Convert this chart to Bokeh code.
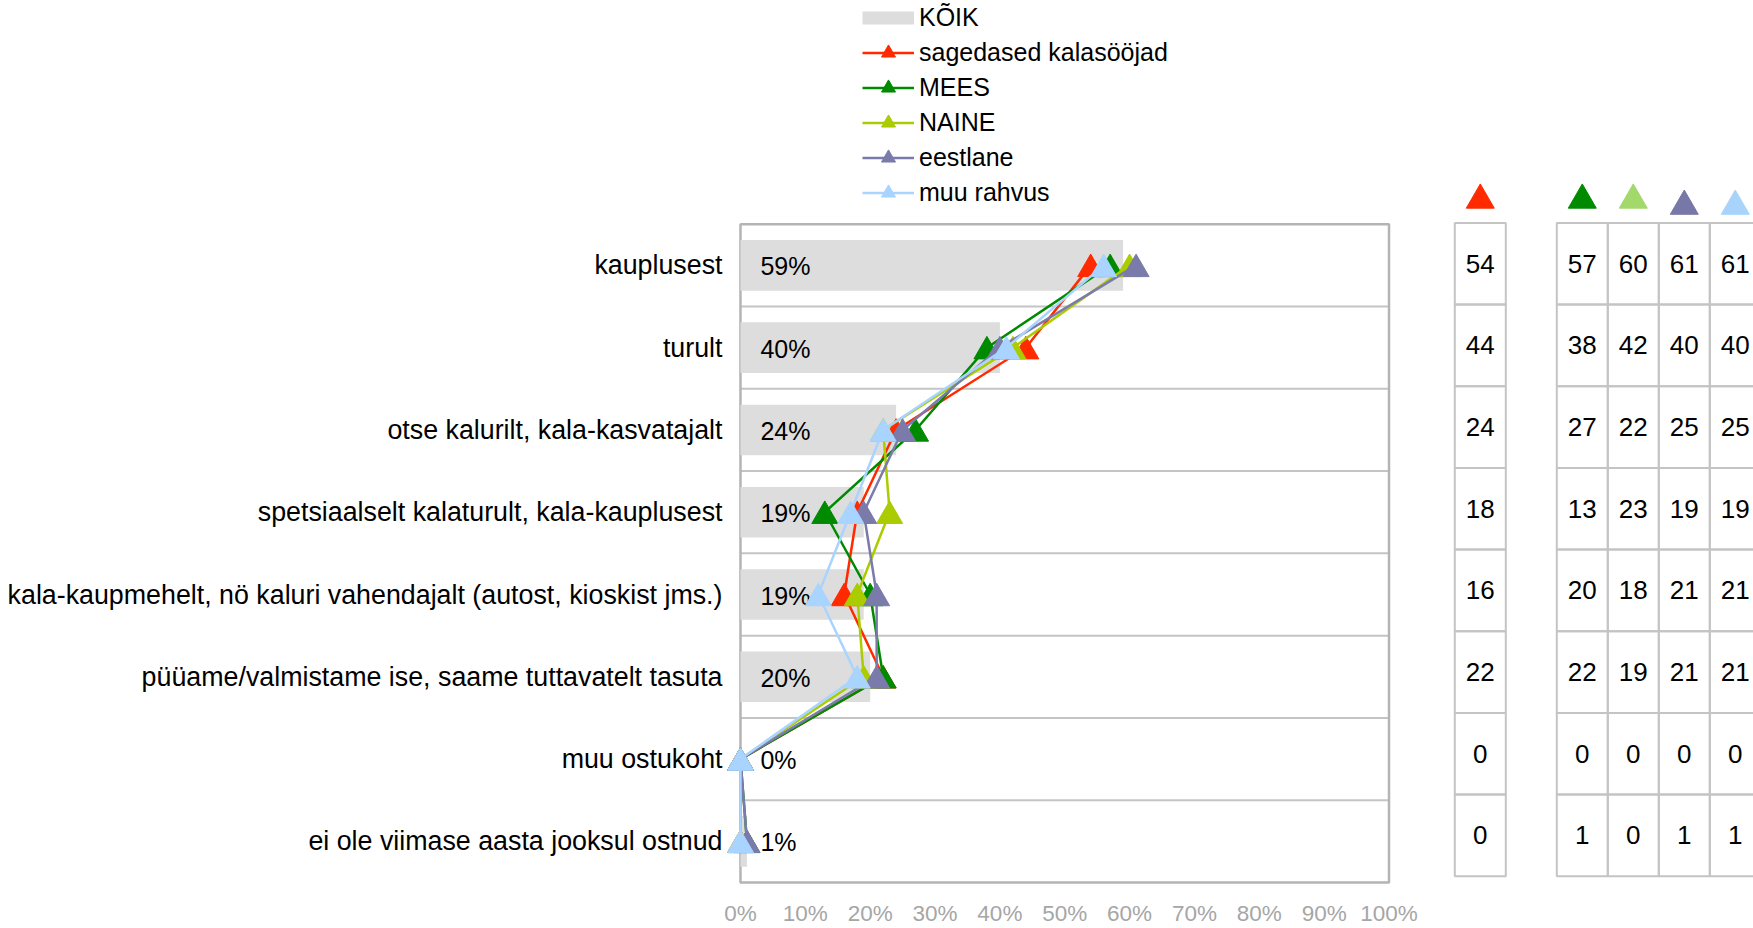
from bokeh.plotting import figure
from bokeh.models import Range1d, FixedTicker, PrintfTickFormatter, Legend, LegendItem
from bokeh.layouts import row
from bokeh.embed import file_html
from bokeh.resources import INLINE
from bokeh.core.properties import value

# ---------------- data ----------------
categories = [
    "kauplusest",
    "turult",
    "otse kalurilt, kala-kasvatajalt",
    "spetsiaalselt kalaturult, kala-kauplusest",
    "kala-kaupmehelt, nö kaluri vahendajalt (autost, kioskist jms.)",
    "püüame/valmistame ise, saame tuttavatelt tasuta",
    "muu ostukoht",
    "ei ole viimase aasta jooksul ostnud",
]
koik = [59, 40, 24, 19, 19, 20, 0, 1]
sagedased = [54, 44, 24, 18, 16, 22, 0, 0]
mees = [57, 38, 27, 13, 20, 22, 0, 1]
naine = [60, 42, 22, 23, 18, 19, 0, 0]
eestlane = [61, 40, 25, 19, 21, 21, 0, 1]
muu_rahvus = [56, 41, 22, 17, 12, 18, 0, 0]
# values printed in the last (cut-off) table column
muu_rahvus_table = [61, 40, 25, 19, 21, 21, 0, 1]

series_names = ["sagedased kalasööjad", "MEES", "NAINE", "eestlane", "muu rahvus"]
series_values = [sagedased, mees, naine, eestlane, muu_rahvus]
series_colors = ["#ff2a00", "#008a00", "#aacc00", "#7b7bab", "#a8d4ff"]
header_colors = ["#ff2a00", "#008a00", "#a3d86b", "#7878a8", "#a8d4fb"]
x_ticks = [0, 10, 20, 30, 40, 50, 60, 70, 80, 90, 100]

FONT = "Liberation Sans"
n = len(categories)
ycent = [i + 0.5 for i in range(n)]
# a triangle marker is centred on its centroid; nudge so its box is centred on the row
MARKER_NUDGE = 0.045
ymark = [y + MARKER_NUDGE for y in ycent]
NAN = float("nan")

# ---------------- main chart ----------------
p = figure(width=1420, height=928,
           x_range=Range1d(-2, 101), y_range=Range1d(8.0243, -2.7193),
           output_backend="svg", toolbar_location=None,
           min_border=0, min_border_left=727, min_border_right=25,
           min_border_bottom=43,
           outline_line_color=None, background_fill_color="white",
           border_fill_color="white")
p.xgrid.visible = False
p.ygrid.visible = False

# axes
p.xaxis.ticker = FixedTicker(ticks=x_ticks)
p.xaxis.formatter = PrintfTickFormatter(format="%d%%")
p.xaxis.axis_line_color = None
p.xaxis.major_tick_line_color = None
p.xaxis.minor_tick_line_color = None
p.xaxis.major_tick_out = 0
p.xaxis.major_label_text_font = FONT
p.xaxis.major_label_text_font_size = "22.5px"
p.xaxis.major_label_text_color = "#a6a6a6"
p.xaxis.major_label_standoff = 16

p.yaxis.ticker = FixedTicker(ticks=ycent)
p.yaxis.major_label_overrides = {y: c for y, c in zip(ycent, categories)}
p.yaxis.axis_line_color = None
p.yaxis.major_tick_line_color = None
p.yaxis.minor_tick_line_color = None
p.yaxis.major_tick_out = 0
p.yaxis.major_label_standoff = 5
p.yaxis.major_label_text_font = FONT
p.yaxis.major_label_text_font_size = "26.8px"
p.yaxis.major_label_text_color = "#000000"

# plot box and row separators
p.segment(x0=[0] * (n - 1), x1=[100] * (n - 1), y0=list(range(1, n)), y1=list(range(1, n)),
          line_color="#c4c4c4", line_width=2)
p.quad(left=[0], right=[100], top=[0], bottom=[n], fill_color=None,
       line_color="#b4b4b4", line_width=2.5)

# KÕIK bars and labels
p.hbar(y=ycent, left=0, right=koik, height=0.615, fill_color="#dddddd", line_color=None)
p.text(x=[0] * n, y=ycent, text=[f"{v}%" for v in koik], x_offset=20, y_offset=1,
       text_align="left", text_baseline="middle", text_font=value(FONT),
       text_font_size="25px", text_color="#000000")

items = []
koik_key = p.line(x=[NAN], y=[NAN], line_color="#dddddd", line_width=13)
items.append(LegendItem(label="KÕIK", renderers=[koik_key]))
for name, vals, col in zip(series_names, series_values, series_colors):
    rl = p.line(x=vals, y=ycent, line_color=col, line_width=2.5)
    rs = p.scatter(x=vals, y=ymark, marker="triangle", size=26,
                   fill_color=col, line_color=col, line_width=1)
    items.append(LegendItem(label=name, renderers=[rl, rs]))

legend = Legend(items=items, location=(135, 674), glyph_width=52, glyph_height=35,
                label_height=35, spacing=0, padding=0, margin=0, label_standoff=5,
                label_text_font=FONT, label_text_font_size="25px",
                label_text_color="#000000",
                border_line_color=None, background_fill_alpha=0)
p.add_layout(legend)

# ---------------- side tables ----------------
t = figure(width=333, height=928,
           x_range=Range1d(-0.6725, 5.857), y_range=Range1d(8.1015, -2.7242),
           x_axis_location=None, y_axis_location=None,
           output_backend="svg", toolbar_location=None,
           min_border=0, min_border_bottom=43, outline_line_color=None)
t.xgrid.visible = False
t.ygrid.visible = False

table_x = [0.5, 2.5, 3.5, 4.5, 5.5]
table_cols = [sagedased, mees, naine, eestlane, muu_rahvus_table]
cx, cy, ct = [], [], []
for x, vals in zip(table_x, table_cols):
    for y, v in zip(ycent, vals):
        cx.append(x)
        cy.append(y)
        ct.append(str(v))
t.rect(x=cx, y=cy, width=1, height=1, fill_color=None, line_color="#c4c4c4", line_width=2)
t.text(x=cx, y=cy, text=ct, text_align="center", text_baseline="middle",
       text_font=value(FONT), text_font_size="26px", text_color="#000000")

header_y = [-0.28, -0.28, -0.28, -0.205, -0.205]
t.scatter(x=table_x, y=header_y, marker="triangle", size=28,
          fill_color=header_colors, line_color=header_colors)

layout = row(p, t)
open("out.html", "w").write(file_html(layout, INLINE))
